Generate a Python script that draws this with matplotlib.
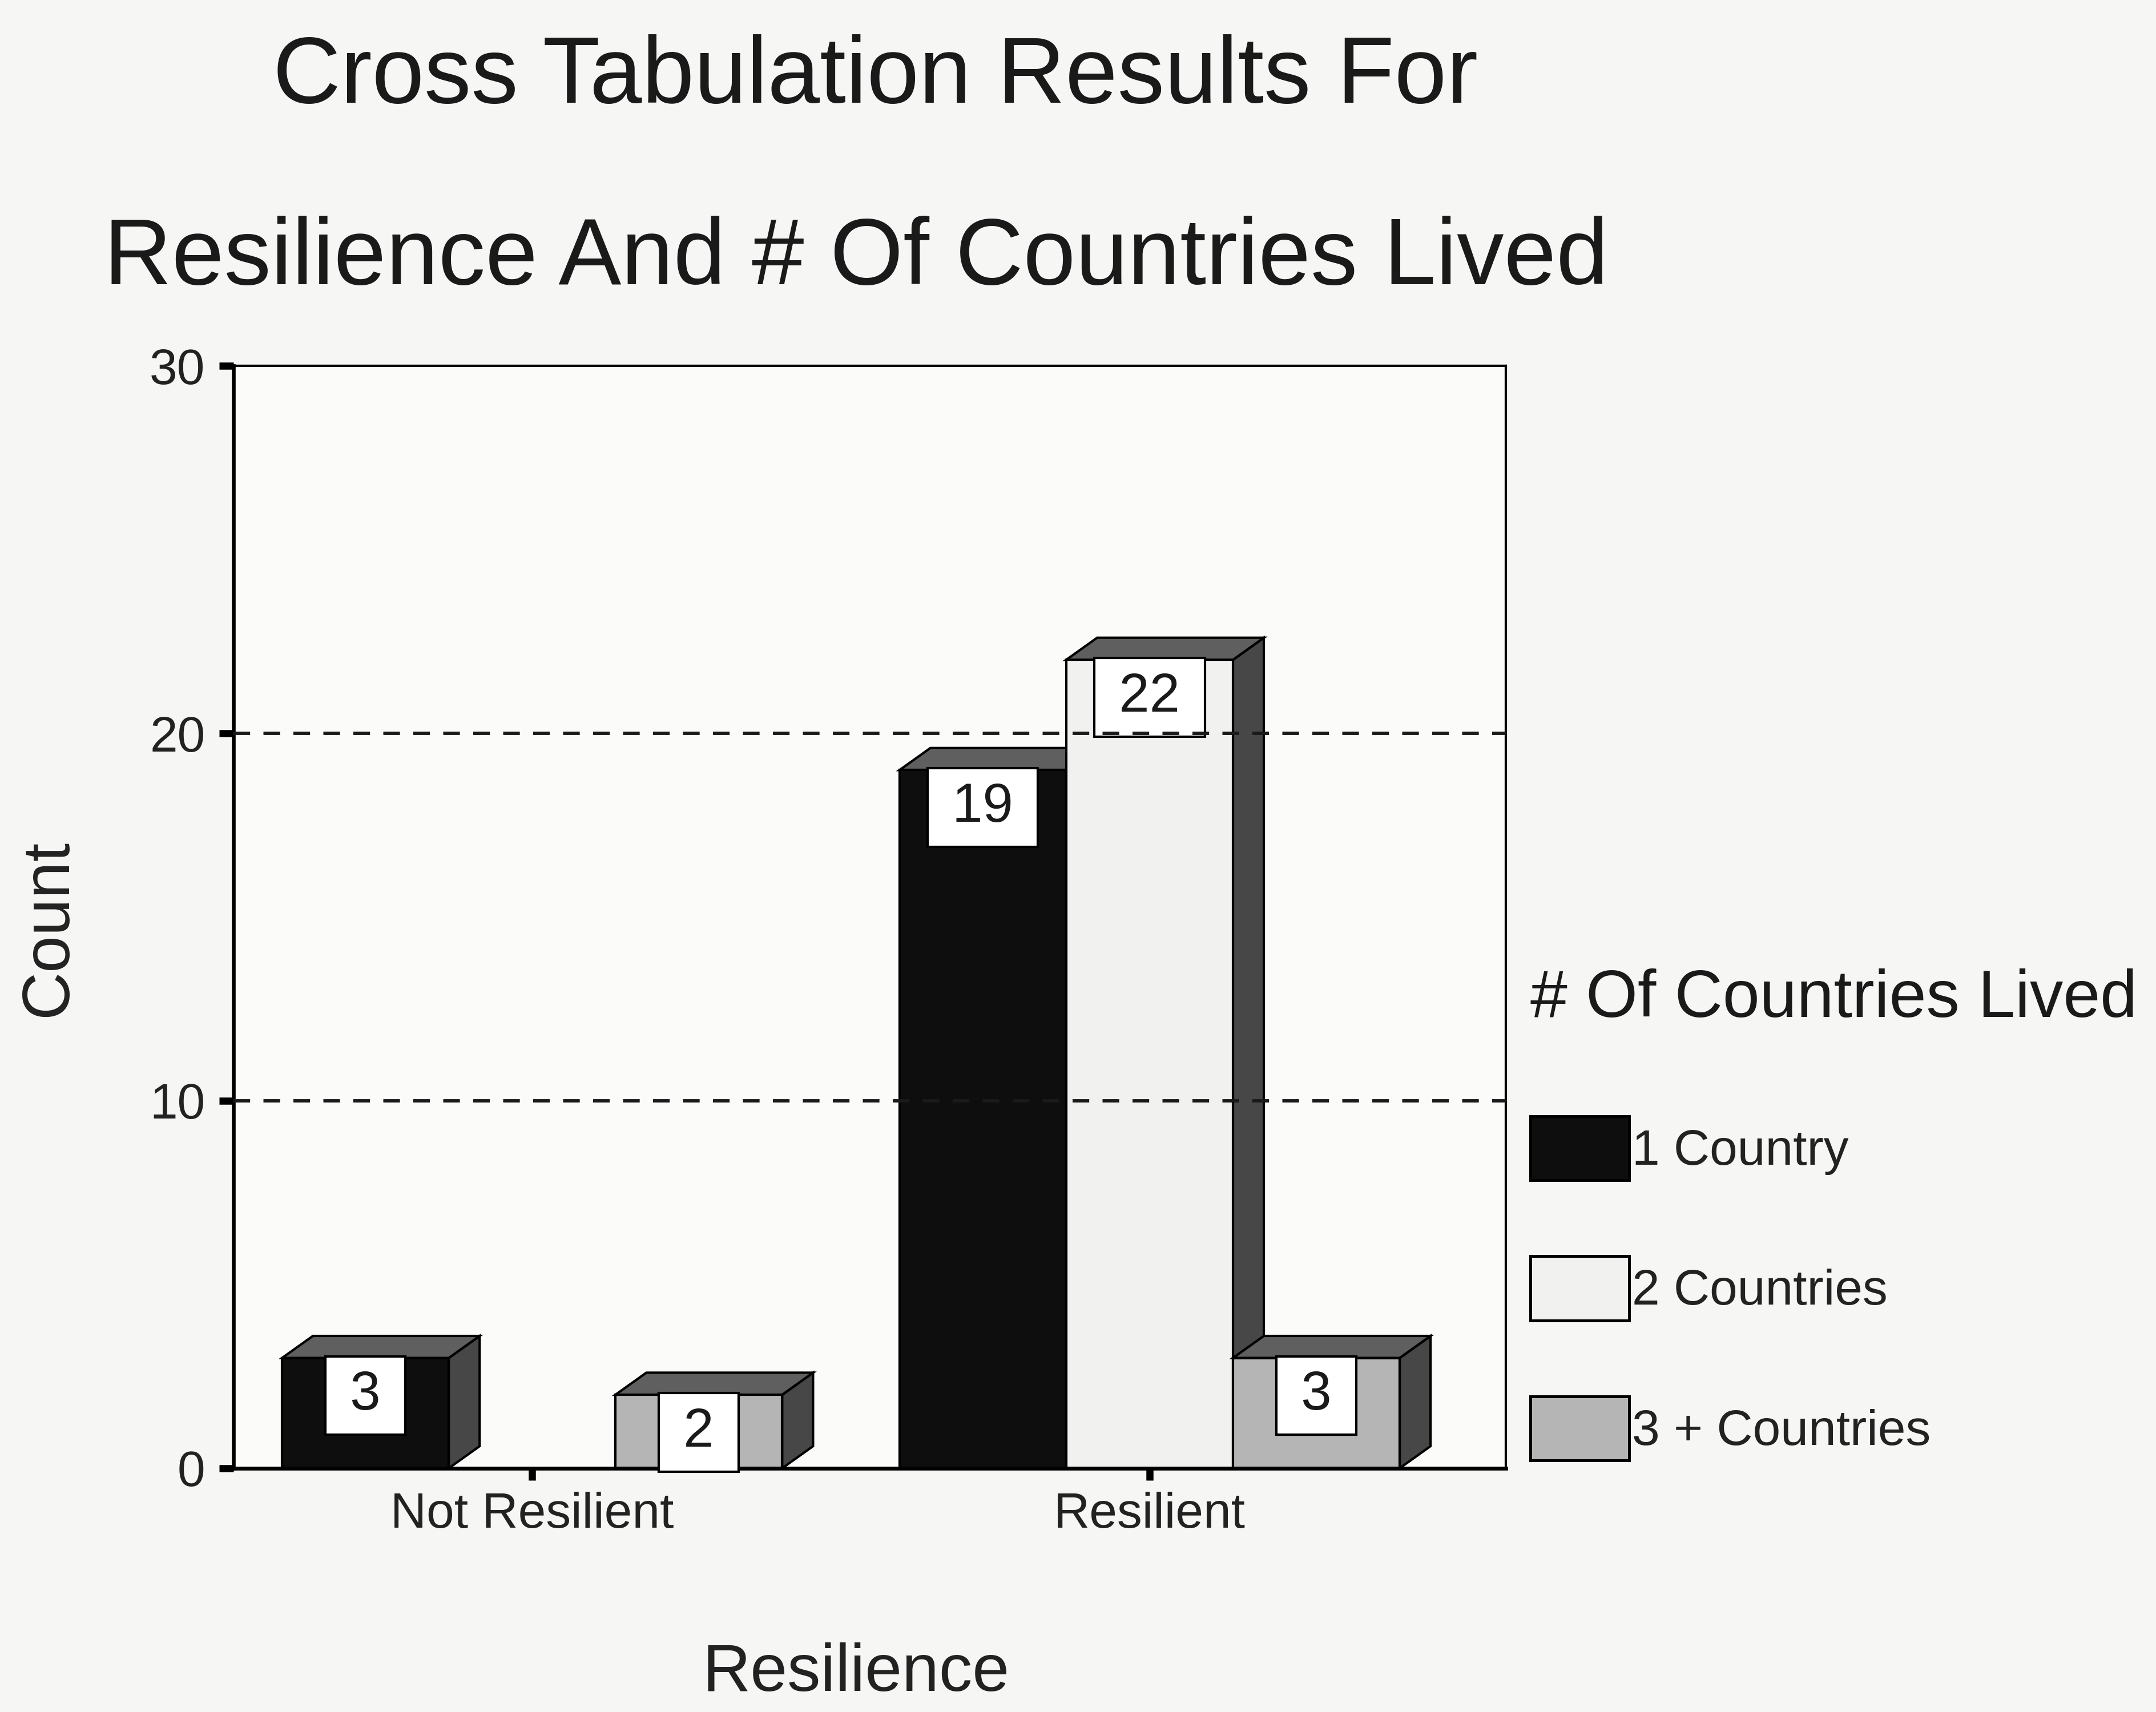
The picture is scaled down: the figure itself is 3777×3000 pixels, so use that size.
import matplotlib.pyplot as plt
from matplotlib.patches import Polygon, Patch

plt.rcParams['font.family'] = ['Liberation Sans', 'DejaVu Sans']

# cross tabulation counts
categories = ["Not Resilient", "Resilient"]
series_names = ["1 Country", "2 Countries", "3 + Countries"]
one_country = [3, 19]
two_countries = [0, 22]
three_plus = [2, 3]
y_ticks = [0, 10, 20, 30]

series_values = [one_country, two_countries, three_plus]
front_colors = ["#0e0e0e", "#f1f1f0", "#b5b5b5"]
side_color = "#474747"
top_color = "#5f5f5f"

bar_w = 0.27
depth_x = 0.05
depth_y = 0.6

fig = plt.figure(figsize=(3777 / 300, 3000 / 300), dpi=300, facecolor="#f6f6f4")
ax = fig.add_axes([0.1084, 0.1424, 0.59, 0.6439])
ax.set_facecolor("#fbfbfa")

z = 2.0
for i in range(len(categories)):
    for j, vals in enumerate(series_values):
        v = vals[i]
        if v == 0:
            continue
        xc = i + (j - 1) * bar_w
        x0, x1 = xc - bar_w / 2, xc + bar_w / 2
        # side and top faces give the box its depth
        side = Polygon([(x1, 0), (x1 + depth_x, depth_y), (x1 + depth_x, v + depth_y), (x1, v)],
                       closed=True, fc=side_color, ec="black", lw=1.0, zorder=z)
        top = Polygon([(x0, v), (x0 + depth_x, v + depth_y), (x1 + depth_x, v + depth_y), (x1, v)],
                      closed=True, fc=top_color, ec="black", lw=1.0, zorder=z + 0.01)
        ax.add_patch(side)
        ax.add_patch(top)
        ax.bar(xc, v, width=bar_w, color=front_colors[j], edgecolor="black", lw=1.0, zorder=z + 0.02)
        ax.annotate(f"\u2009{v}\u2009", xy=(xc, v), xytext=(0, -5), textcoords="offset points",
                    ha="center", va="top", fontsize=23, color="#1a1a1a", zorder=15,
                    bbox=dict(boxstyle="square,pad=0.25", fc="white", ec="black", lw=1.0))
        z += 0.1

# dashed reference lines sit above the bars
for t in y_ticks[1:-1]:
    ax.axhline(t, color="#1a1a1a", lw=1.4, linestyle=(0, (5, 4)), zorder=20)

ax.set_xlim(-0.4833, 1.5768)
ax.set_ylim(0, 30)
ax.set_yticks(y_ticks)
ax.set_xticks(range(len(categories)))
ax.set_xticklabels(categories)

ax.tick_params(axis="y", direction="out", length=6, width=3, pad=6, labelsize=21, labelcolor="#222222")
ax.tick_params(axis="x", direction="out", length=5, width=3, pad=5, labelsize=21, labelcolor="#222222")

for side_name in ["left", "bottom"]:
    ax.spines[side_name].set_linewidth(1.6)
for side_name in ["top", "right"]:
    ax.spines[side_name].set_linewidth(1.0)

ax.set_ylabel("Count", fontsize=28, color="#222222")
ax.yaxis.set_label_coords(-0.121, 0.49)
ax.set_xlabel("Resilience", fontsize=28, color="#222222")
ax.xaxis.set_label_coords(0.489, -0.158)

fig.text(0.406, 0.940, "Cross Tabulation Results For", fontsize=39.5, ha="center", va="baseline", color="#1a1a1a")
fig.text(0.397, 0.834, "Resilience And # Of Countries Lived", fontsize=39.5, ha="center", va="baseline", color="#1a1a1a")

# legend: heading as its own text, swatches below
fig.text(0.7098, 0.406, "# Of Countries Lived", fontsize=28, ha="left", va="baseline", color="#1a1a1a")
handles = [Patch(facecolor=c, edgecolor="black", lw=1.2) for c in front_colors]
leg = ax.legend(handles, series_names, loc="upper left",
                bbox_to_anchor=(0.7098, 0.348), bbox_transform=fig.transFigure,
                frameon=False, fontsize=21,
                handlelength=1.98, handleheight=1.6, handletextpad=0.05,
                labelspacing=1.52, borderpad=0, borderaxespad=0)
for t in leg.get_texts():
    t.set_color("#222222")

fig.savefig("out.png", dpi=300, facecolor=fig.get_facecolor())
